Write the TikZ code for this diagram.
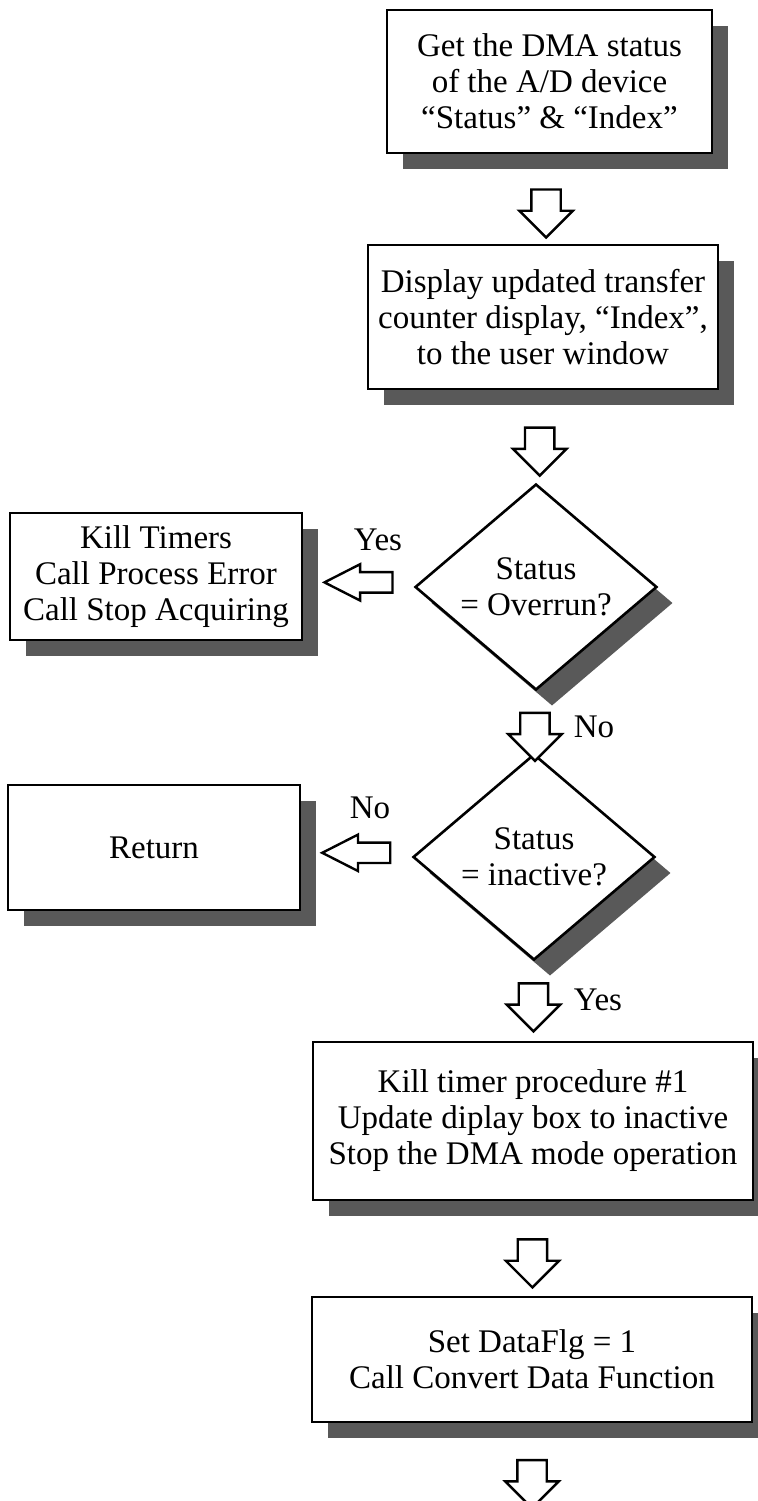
\documentclass[tikz,border=0pt]{standalone}
\usepackage{fontspec}
\setmainfont{Liberation Serif}
\usetikzlibrary{shapes.geometric,shapes.arrows,shadows,positioning}

\begin{document}
\begin{tikzpicture}[x=0.5pt,y=-0.5pt,font=\fontsize{16.5}{18}\selectfont,
	box/.style={rectangle, draw, line width=1.4pt, fill=white, align=center, inner sep=0pt,
		drop shadow={shadow xshift=8pt, shadow yshift=-8pt, fill=black!65, opacity=1}},
	decision/.style={diamond, draw, line width=1.3pt, fill=white, align=center, inner sep=0pt,
		aspect=1.18, minimum width=121pt, minimum height=103pt,
		drop shadow={shadow xshift=8pt, shadow yshift=-8pt, fill=black!65, opacity=1}},
	downarrow/.style={single arrow, draw, line width=1.2pt, fill=white, shape border rotate=270,
		minimum height=24pt, inner sep=6.75pt,
		single arrow head extend=6pt, single arrow tip angle=90},
	leftarrow/.style={downarrow, shape border rotate=180, minimum height=34pt, inner sep=4.5pt,
		single arrow head extend=4pt, single arrow tip angle=54},
	lbl/.style={inner sep=1pt}]
				\useasboundingbox (0,0) rectangle (757,1501);

				% main column
				\node[box, minimum width=162.5pt, minimum height=71.5pt] (get) at (549.5,81.5)
					{Get the DMA status\\of the A/D device\\“Status” \& “Index”};
				\node[box, minimum width=175pt, minimum height=72pt] (disp) at (543,317)
					{Display updated transfer\\counter display, “Index”,\\to the user window};
				\node[decision] (overrun) at (536,587) {Status\\= Overrun?};
				\node[decision] (inact)   at (534,857) {Status\\= inactive?};
				\node[box, minimum width=220pt, minimum height=79pt] (stopdma) at (533,1121)
					{Kill timer procedure \#1\\Update diplay box to inactive\\Stop the DMA mode operation};
				\node[box, minimum width=220pt, minimum height=62.5pt] (conv) at (532,1359.5)
					{Set DataFlg = 1\\Call Convert Data Function};
				\coordinate (out) at (532,1530);

				% side exits
				\node[box, minimum width=146pt, minimum height=63.5pt] (killt) at (156,576.5)
					{Kill Timers\\Call Process Error\\Call Stop Acquiring};
				\node[box, minimum width=146pt, minimum height=62.5pt] (ret) at (154,847.5) {Return};

				\path (get)     -- (disp)    node[downarrow, pos=.58] (a1) {};
				\path (disp)    -- (overrun) node[downarrow, pos=.57] (a2) {};
				\path (overrun) -- (inact)   node[downarrow, pos=.62] (a3) {};
				\path (inact)   -- (stopdma) node[downarrow, pos=.49] (a4) {};
				\path (stopdma) -- (conv)    node[downarrow, pos=.58] (a5) {};
				\path (conv)    -- (out)     node[downarrow, pos=.5]  (a6) {};
				\path (overrun) -- (killt)   node[leftarrow, pos=.43] (a7) {};
				\path (inact)   -- (ret)     node[leftarrow, pos=.43] (a8) {};

				\node[lbl] (yes1) at (378,540)  {Yes};
				\node[lbl] (no1)  at (594,727)  {No};
				\node[lbl] (no2)  at (370,808)  {No};
				\node[lbl] (yes2) at (598,1000) {Yes};
			\end{tikzpicture}
\end{document}
